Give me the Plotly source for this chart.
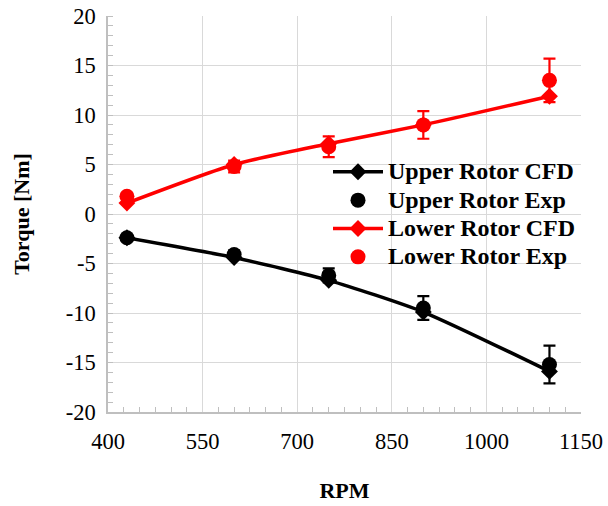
import plotly.graph_objects as go

rpm = [430, 600, 750, 900, 1100]
upper_cfd = [-2.4, -4.4, -6.7, -9.9, -15.9]
upper_exp = [-2.4, -4.1, -6.2, -9.5, -15.2]
upper_err = [0.2, 0.4, 0.7, 1.2, 1.9]
lower_cfd = [1.1, 5.0, 7.1, 9.0, 11.9]
lower_exp = [1.8, 4.8, 6.8, 9.0, 13.5]
lower_err = [0.3, 0.6, 1.05, 1.4, 2.2]
y_tick_vals = [-20, -15, -10, -5, 0, 5, 10, 15, 20]
y_tick_text = ["-20", "-15", "-10", "-5", "0", "5", "10", "15", "20"]

FONT = "Liberation Serif, Times New Roman, serif"


def lg(name):
    return "<span style='font-size:24px'>" + name + "</span>"


fig = go.Figure()
fig.add_trace(go.Scatter(x=rpm, y=upper_cfd, name=lg("Upper Rotor CFD"), mode="lines+markers",
                         line=dict(color="black", width=3.5, shape="spline", smoothing=0.6),
                         marker=dict(symbol="diamond", size=13, color="black")))
fig.add_trace(go.Scatter(x=rpm, y=upper_exp, name=lg("Upper Rotor Exp"), mode="markers",
                         marker=dict(symbol="circle", size=15, color="black"),
                         error_y=dict(type="data", array=upper_err, color="black", thickness=2.2, width=6)))
fig.add_trace(go.Scatter(x=rpm, y=lower_cfd, name=lg("Lower Rotor CFD"), mode="lines+markers",
                         line=dict(color="#ff0000", width=3.5, shape="spline", smoothing=0.6),
                         marker=dict(symbol="diamond", size=13, color="#ff0000")))
fig.add_trace(go.Scatter(x=rpm, y=lower_exp, name=lg("Lower Rotor Exp"), mode="markers",
                         marker=dict(symbol="circle", size=15, color="#ff0000"),
                         error_y=dict(type="data", array=lower_err, color="#ff0000", thickness=2.2, width=6)))

fig.update_layout(
    width=608, height=506,
    margin=dict(l=108, r=27, t=16, b=94),
    paper_bgcolor="white", plot_bgcolor="white",
    font=dict(family=FONT, size=22, color="black"),
    showlegend=True,
    legend=dict(x=1.0, xanchor="right", y=0.655, yanchor="top",
                bgcolor="rgba(0,0,0,0)", itemwidth=50, tracegroupgap=0,
                font=dict(family=FONT, size=19.5, color="black", weight="bold")),
)
fig.update_xaxes(range=[400, 1150], dtick=150, tick0=400, automargin=False,
                 showgrid=True, gridcolor="#d9d9d9", gridwidth=1.3,
                 showline=True, linecolor="#bfbfbf", linewidth=1.5,
                 ticks="", zeroline=False, ticklabelstandoff=8,
                 minor=dict(dtick=25, ticks="inside", ticklen=5, tickcolor="#bfbfbf", showgrid=False),
                 tickfont=dict(family=FONT, size=22.5),
                 title=dict(text="<b>RPM</b>", font=dict(family=FONT, size=22), standoff=30))
fig.update_yaxes(range=[-20, 20], tickvals=y_tick_vals, ticktext=y_tick_text, automargin=False,
                 showgrid=True, gridcolor="#d9d9d9", gridwidth=1.3,
                 showline=True, linecolor="#bfbfbf", linewidth=1.5,
                 ticks="", zeroline=False, ticklabelstandoff=6,
                 minor=dict(dtick=1, ticks="inside", ticklen=5, tickcolor="#bfbfbf", showgrid=False),
                 tickfont=dict(family=FONT, size=22.5),
                 title=dict(text="<b>Torque [Nm]</b>", font=dict(family=FONT, size=22), standoff=30))

fig.write_html("out.html")
